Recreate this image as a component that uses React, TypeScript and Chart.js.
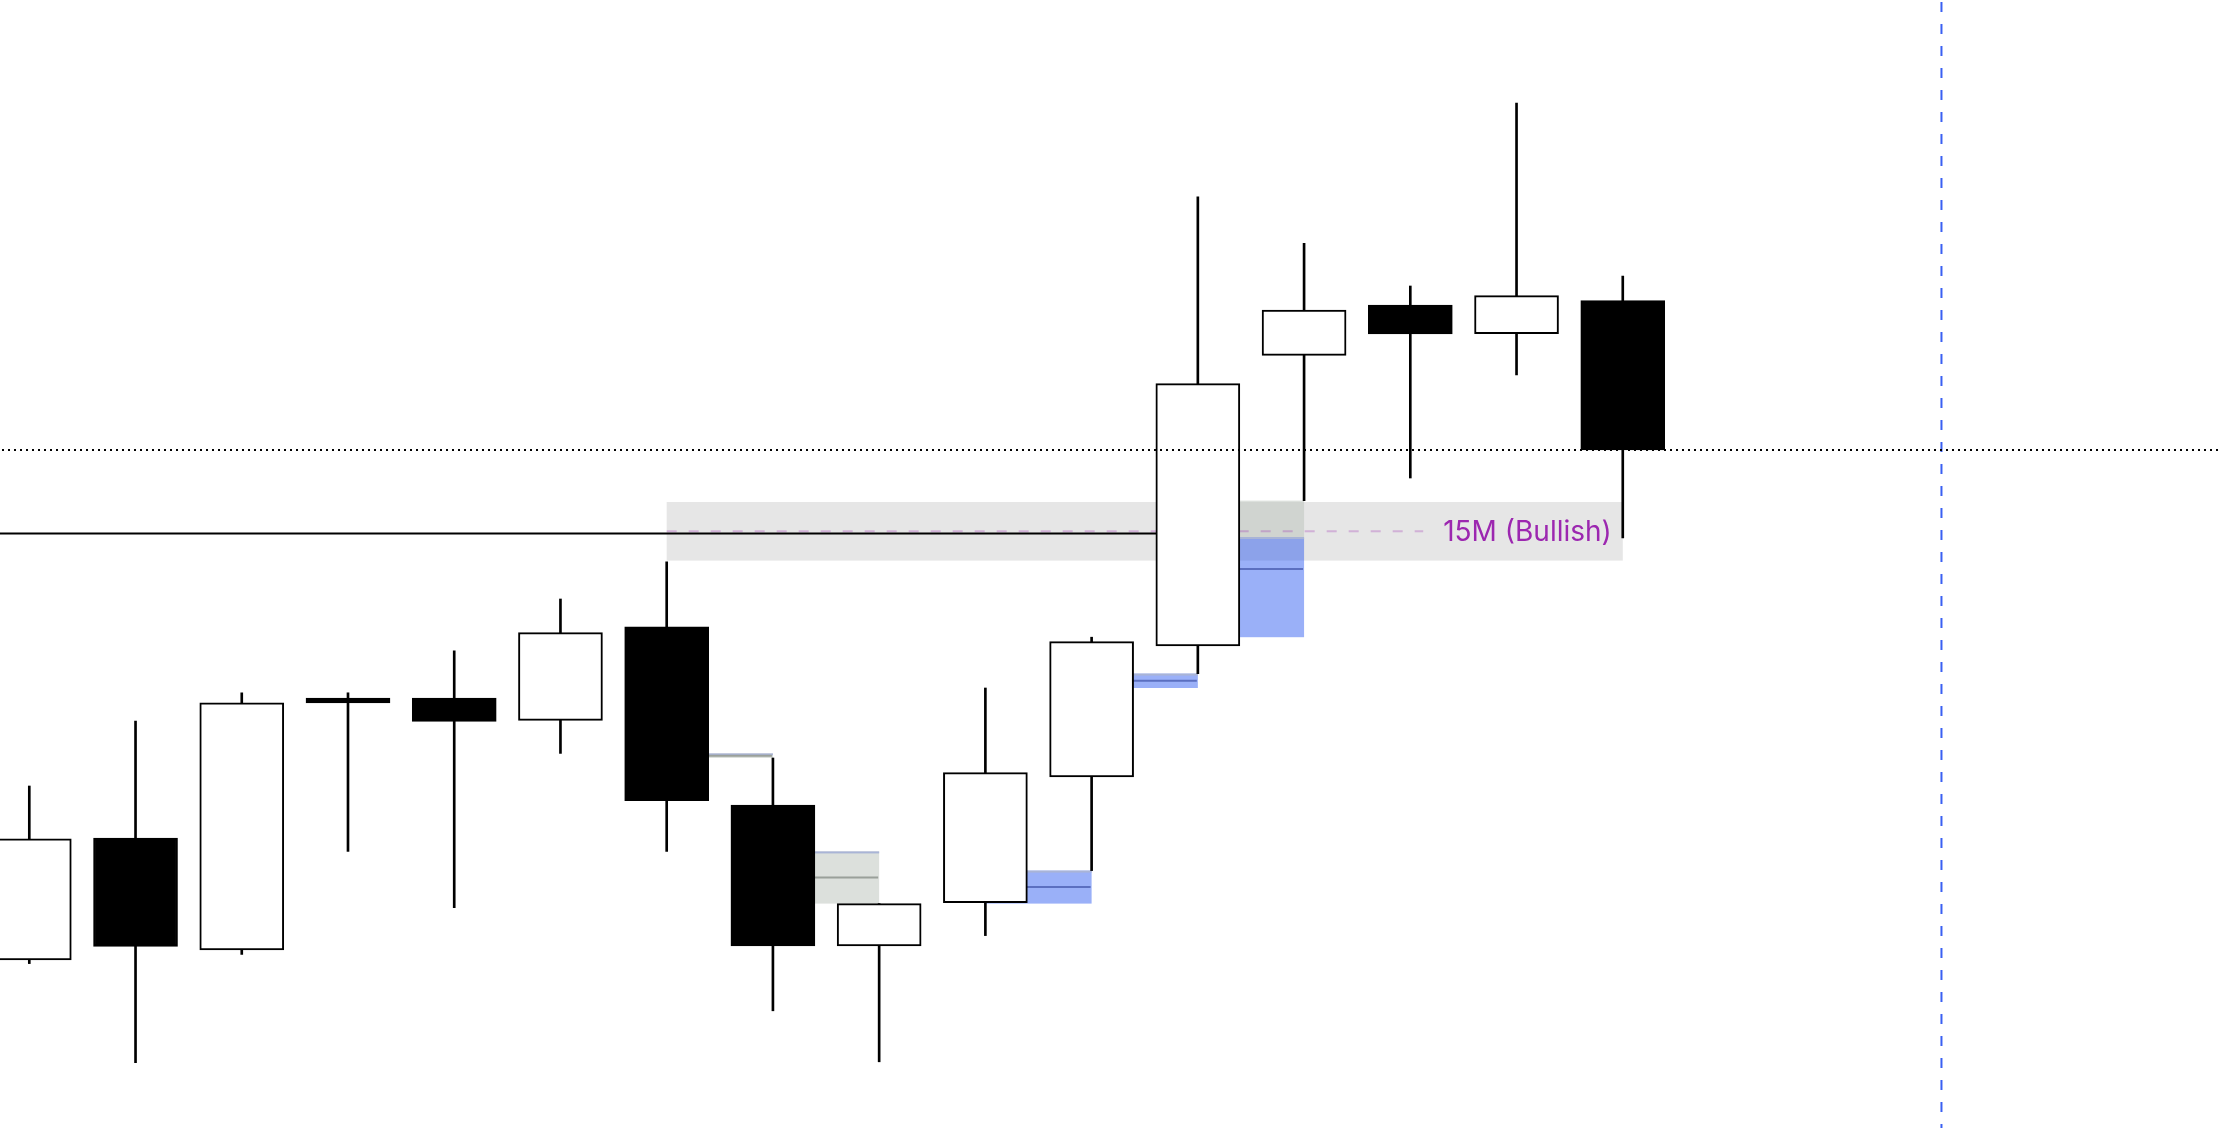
import React, { useEffect, useRef } from "react";
import { Chart, registerables } from "chart.js";

Chart.register(...registerables);

// ---- candle data (bar index, OHLC) ----
const candleIndex = [0, 1, 2, 3, 4, 5, 6, 7, 8, 9, 10, 11, 12, 13, 14, 15];
const opens = [2352.0, 2358.1, 2352.51, 2365.1, 2365.1, 2363.98, 2368.66, 2359.75, 2352.7, 2354.87, 2361.15, 2367.7, 2382.23, 2384.74, 2383.32, 2384.97];
const highs = [2360.7, 2363.95, 2365.36, 2365.36, 2367.46, 2370.05, 2371.91, 2362.1, 2354.82, 2365.6, 2368.14, 2390.16, 2387.83, 2385.7, 2394.85, 2386.2];
const lows = [2351.82, 2346.87, 2352.28, 2357.43, 2354.62, 2362.33, 2357.43, 2349.46, 2346.91, 2353.22, 2356.47, 2366.32, 2374.97, 2376.1, 2381.25, 2373.1];
const closes = [2358.06, 2352.68, 2364.86, 2364.86, 2363.93, 2368.37, 2359.97, 2352.7, 2354.82, 2361.37, 2367.92, 2380.82, 2384.5, 2383.3, 2385.22, 2377.5];

// ---- higher-timeframe zone ----
const zoneSpan = [6, 15];
const zoneBounds = [2374.9, 2371.97];
const zoneLabel = "15M (Bullish)";

// ---- level line ----
const levelSpan = [-3, 11];
const levelPrice = 2373.33;

// ---- future session marker ----
const markerIndex = 18;

// ---- view range ----
const X_MIN = -0.2758;
const X_MAX = 20.622;
const Y_MIN = 2343.6;
const Y_MAX = 2400.0;

type Gap = { i: number; bull: boolean; top: number; bottom: number; boundary: number };

function findGaps(): Gap[] {
  const out: Gap[] = [];
  const n = candleIndex.length;
  for (let i = 1; i < n - 1; i++) {
    if (lows[i + 1] > highs[i - 1]) {
      const top = lows[i + 1];
      const bottom = highs[i - 1];
      let m = top;
      for (let j = i + 2; j < n; j++) m = Math.min(m, lows[j]);
      const boundary = Math.min(top, Math.max(bottom, m));
      out.push({ i, bull: true, top, bottom, boundary });
    } else if (highs[i + 1] < lows[i - 1]) {
      const top = lows[i - 1];
      const bottom = highs[i + 1];
      let m = bottom;
      for (let j = i + 2; j < n; j++) m = Math.max(m, highs[j]);
      const boundary = Math.min(top, Math.max(bottom, m));
      out.push({ i, bull: false, top, bottom, boundary });
    }
  }
  return out;
}

const overlayPlugin = {
  id: "overlay",
  beforeDatasetsDraw(chart: any) {
    const { ctx } = chart;
    const x = chart.scales.x;
    const y = chart.scales.y;
    ctx.save();

    // HTF zone band
    const bx0 = x.getPixelForValue(zoneSpan[0]);
    const bx1 = x.getPixelForValue(zoneSpan[1]);
    const by0 = y.getPixelForValue(zoneBounds[0]);
    const by1 = y.getPixelForValue(zoneBounds[1]);
    ctx.fillStyle = "#e6e6e6";
    ctx.fillRect(bx0, by0, bx1 - bx0, by1 - by0);

    // fair value gaps
    for (const g of findGaps()) {
      const x0 = x.getPixelForValue(g.i);
      const x1 = x.getPixelForValue(g.i + 1);
      const yt = y.getPixelForValue(g.top);
      const yb = y.getPixelForValue(g.bottom);
      const yB = y.getPixelForValue(g.boundary);
      const gray = "rgba(185,193,185,0.5)";
      const blue = "rgba(30,80,240,0.45)";
      if (g.bull) {
        ctx.fillStyle = gray;
        ctx.fillRect(x0, yt, x1 - x0, yB - yt);
        ctx.fillStyle = blue;
        ctx.fillRect(x0, yB, x1 - x0, yb - yB);
      } else {
        ctx.fillStyle = gray;
        ctx.fillRect(x0, yB, x1 - x0, yb - yB);
        ctx.fillStyle = blue;
        ctx.fillRect(x0, yt, x1 - x0, yB - yt);
      }
      // boundary sliver
      const s0 = Math.max(yt, yB - 1);
      ctx.fillStyle = "#a9b4d6";
      ctx.fillRect(x0, s0, x1 - x0, 2);
      // midline
      const ym = y.getPixelForValue((g.top + g.bottom) / 2);
      ctx.strokeStyle = g.bull ? "#5b6fc0" : "#9aa09a";
      ctx.lineWidth = 2;
      ctx.setLineDash([]);
      ctx.beginPath();
      ctx.moveTo(x0 + 1, ym);
      ctx.lineTo(x1 - 1, ym);
      ctx.stroke();
    }

    // zone label and dashed midline
    const midPrice = (zoneBounds[0] + zoneBounds[1]) / 2;
    const ym = y.getPixelForValue(midPrice);
    const fontSize = 28;
    ctx.font = `${fontSize}px Inter, "Noto Sans", sans-serif`;
    const tw = ctx.measureText(zoneLabel).width;
    const textRight = bx1 - 11;
    ctx.strokeStyle = "rgba(156,39,176,0.28)";
    ctx.lineWidth = 2;
    ctx.setLineDash([10, 12]);
    ctx.beginPath();
    ctx.moveTo(bx0, ym);
    ctx.lineTo(textRight - tw - 20, ym);
    ctx.stroke();
    ctx.setLineDash([]);
    ctx.fillStyle = "#9c27b0";
    ctx.textAlign = "right";
    ctx.textBaseline = "alphabetic";
    ctx.fillText(zoneLabel, textRight, ym + fontSize * 0.727 / 2);

    // level line
    const ly = y.getPixelForValue(levelPrice);
    ctx.strokeStyle = "#000";
    ctx.lineWidth = 2;
    ctx.beginPath();
    ctx.moveTo(x.getPixelForValue(levelSpan[0]), ly);
    ctx.lineTo(x.getPixelForValue(levelSpan[1]), ly);
    ctx.stroke();

    ctx.restore();
  },
  afterDatasetsDraw(chart: any) {
    const { ctx, chartArea } = chart;
    const x = chart.scales.x;
    const y = chart.scales.y;
    ctx.save();

    // future session marker
    const vx = x.getPixelForValue(markerIndex);
    ctx.strokeStyle = "#3a60f2";
    ctx.lineWidth = 2;
    ctx.setLineDash([10, 12]);
    ctx.lineDashOffset = 20;
    ctx.beginPath();
    ctx.moveTo(vx, chartArea.top);
    ctx.lineTo(vx, chartArea.bottom);
    ctx.stroke();

    // last price dotted line
    const py = y.getPixelForValue(closes[closes.length - 1]);
    ctx.strokeStyle = "#000";
    ctx.lineWidth = 2;
    ctx.setLineDash([2, 4]);
    ctx.lineDashOffset = 4;
    ctx.beginPath();
    ctx.moveTo(chartArea.left, py);
    ctx.lineTo(chartArea.right, py);
    ctx.stroke();

    ctx.restore();
  },
};

export default function App() {
  const canvasRef = useRef<HTMLCanvasElement | null>(null);

  useEffect(() => {
    if (!canvasRef.current) return;
    const bodies = candleIndex.map((i) => ({ x: i, y: [opens[i], closes[i]] }));
    const wicks = candleIndex.map((i) => ({ x: i, y: [lows[i], highs[i]] }));
    const bodyColors = candleIndex.map((i) => (closes[i] >= opens[i] ? "#ffffff" : "#000000"));

    const chart = new Chart(canvasRef.current, {
      type: "bar",
      data: {
        datasets: [
          {
            label: "body",
            data: bodies as any,
            backgroundColor: bodyColors,
            borderColor: "#000000",
            borderWidth: 2,
            borderSkipped: false,
            barThickness: 84,
            grouped: false,
            order: 0,
          } as any,
          {
            label: "wick",
            data: wicks as any,
            backgroundColor: "#000000",
            borderWidth: 0,
            barThickness: 2,
            grouped: false,
            order: 1,
          } as any,
        ],
      },
      options: {
        animation: false,
        responsive: false,
        events: [],
        layout: { padding: 0 },
        plugins: {
          legend: { display: false },
          tooltip: { enabled: false },
        },
        scales: {
          x: { type: "linear", min: X_MIN, max: X_MAX, display: false, offset: false },
          y: { type: "linear", min: Y_MIN, max: Y_MAX, display: false },
        },
      } as any,
      plugins: [overlayPlugin as any],
    });
    return () => chart.destroy();
  }, []);

  return (
    <div style={{ position: "fixed", left: 0, top: 0, width: 2220, height: 1128, background: "#ffffff" }}>
      <canvas ref={canvasRef} width={2220} height={1128} style={{ display: "block" }} />
    </div>
  );
}
